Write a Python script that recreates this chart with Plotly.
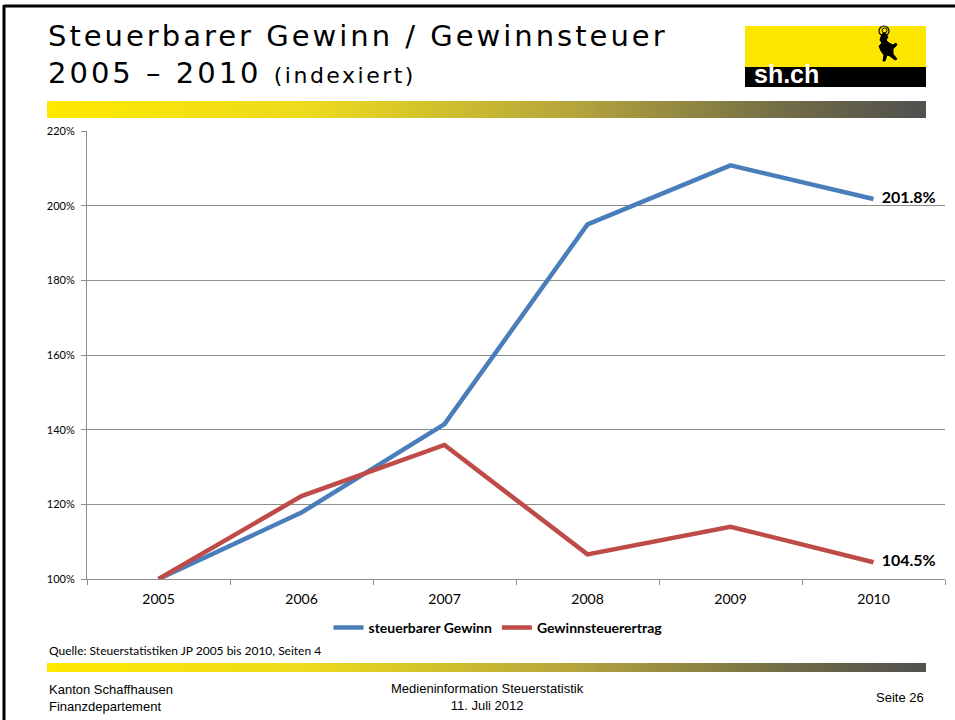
import plotly.graph_objects as go

years = ["2005", "2006", "2007", "2008", "2009", "2010"]
gewinn = [100.0, 117.8, 141.5, 195.0, 210.8, 201.8]
steuer = [100.0, 122.2, 135.9, 106.6, 114.0, 104.5]
series_names = ["steuerbarer Gewinn", "Gewinnsteuerertrag"]
y_ticks = [100, 120, 140, 160, 180, 200, 220]

W, H = 955, 720
L, R, T, B = 87, 10, 131, 141
PW, PH = W - L - R, H - T - B


def px(x):
    return (x - L) / PW


def py(y):
    return (H - B - y) / PH


BLUE = "#4A7EBB"
RED = "#BE4B48"
GRID = "#8C8C8C"

fig = go.Figure()


def last_label(vals):
    return [""] * (len(vals) - 1) + [f"\u00a0\u00a0<b>{vals[-1]:.1f}%</b>"]


for vals, nm, col in [(gewinn, series_names[0], BLUE), (steuer, series_names[1], RED)]:
    fig.add_trace(go.Scatter(
        x=years, y=vals, name="<b>" + nm + "</b>",
        mode="lines+text", line=dict(color=col, width=4.5),
        text=last_label(vals), textposition="middle right",
        textfont=dict(family="Lato", size=16, color="#000000"),
        cliponaxis=False,
    ))

shapes = []
# slide border (top and left)
shapes.append(dict(type="line", xref="paper", yref="paper", x0=px(4), x1=px(956), y0=py(6), y1=py(6),
                   line=dict(color="#000000", width=3), layer="above"))
shapes.append(dict(type="line", xref="paper", yref="paper", x0=px(4), x1=px(4), y0=py(5), y1=py(721),
                   line=dict(color="#000000", width=3), layer="above"))


def grad_color(f):
    stops = [(0.0, (255, 233, 0)), (0.3, (236, 218, 30)), (0.6, (180, 165, 60)), (0.85, (110, 105, 70)), (1.0, (80, 80, 80))]
    for i in range(len(stops) - 1):
        a, ca = stops[i]
        b, cb = stops[i + 1]
        if a <= f <= b:
            t = (f - a) / (b - a)
            c = [round(ca[k] + (cb[k] - ca[k]) * t) for k in range(3)]
            return f"rgb({c[0]},{c[1]},{c[2]})"
    return "rgb(80,80,80)"


def gradient_bar(x0, x1, y0, y1, n=110):
    w = (x1 - x0) / n
    for i in range(n):
        xa = x0 + i * w
        xb = xa + w + 0.6
        shapes.append(dict(type="rect", xref="paper", yref="paper",
                           x0=px(xa), x1=px(min(xb, x1)), y0=py(y1), y1=py(y0),
                           fillcolor=grad_color((i + 0.5) / n), line=dict(width=0), layer="above"))


gradient_bar(47, 926, 101, 118)
gradient_bar(47, 926, 663, 672)

# logo
shapes.append(dict(type="rect", xref="paper", yref="paper", x0=px(745), x1=px(926), y0=py(67), y1=py(26),
                   fillcolor="#FFE600", line=dict(width=0), layer="above"))
shapes.append(dict(type="rect", xref="paper", yref="paper", x0=px(745), x1=px(926), y0=py(87), y1=py(67),
                   fillcolor="#000000", line=dict(width=0), layer="above"))


def pth(points):
    s = ""
    for i, (a, b) in enumerate(points):
        s += ("M" if i == 0 else "L") + f"{px(a):.5f},{py(b):.5f} "
    return s + "Z"


# stylised ibex silhouette
shapes.append(dict(type="path", xref="paper", yref="paper", layer="above",
                   path=pth([(882, 34), (885, 33), (888, 37), (886, 40), (889, 43), (893, 45), (896, 43),
                             (897, 45), (893, 49), (893, 54), (897, 59), (895, 60), (890, 56), (887, 55),
                             (885, 61), (883, 61), (884, 55), (881, 51), (879, 46), (882, 43), (880, 40),
                             (881, 37)]),
                   fillcolor="#000000", line=dict(color="#000000", width=1)))
# curly horns
shapes.append(dict(type="circle", xref="paper", yref="paper", layer="above",
                   x0=px(879), x1=px(889), y0=py(36), y1=py(26), line=dict(color="#000000", width=1.2)))
shapes.append(dict(type="circle", xref="paper", yref="paper", layer="above",
                   x0=px(882), x1=px(887), y0=py(33), y1=py(28), line=dict(color="#000000", width=1)))

ls = "letter-spacing:3px"
ann = []
ann.append(dict(text=f"<span style='{ls}'>Steuerbarer Gewinn / Gewinnsteuer</span>", x=px(46), y=py(55),
                xanchor="left", yanchor="bottom",
                font=dict(family="DejaVu Sans", size=29, color="#000000")))
ann.append(dict(text=f"<span style='{ls}'>2005 – 2010 </span><span style='font-size:22px;letter-spacing:2.5px'>(indexiert)</span>",
                x=px(46), y=py(92), xanchor="left", yanchor="bottom",
                font=dict(family="DejaVu Sans", size=29, color="#000000")))
ann.append(dict(text="<b>sh.ch</b>", x=px(752), y=py(90), xanchor="left", yanchor="bottom",
                font=dict(family="Liberation Sans", size=25, color="#FFFFFF")))
ann.append(dict(text="Quelle: Steuerstatistiken JP 2005 bis 2010, Seiten 4", x=px(47), y=py(650),
                xanchor="left", yanchor="middle", font=dict(family="Lato", size=12, color="#000000")))
ann.append(dict(text="Kanton Schaffhausen<br>Finanzdepartement", x=px(47), y=py(698), xanchor="left",
                yanchor="middle", align="left",
                font=dict(family="Liberation Sans", size=13, color="#000000")))
ann.append(dict(text="Medieninformation Steuerstatistik<br>11. Juli 2012", x=px(487), y=py(697),
                xanchor="center", yanchor="middle", align="center",
                font=dict(family="Liberation Sans", size=13, color="#000000")))
ann.append(dict(text="Seite 26", x=px(926), y=py(697), xanchor="right", yanchor="middle",
                font=dict(family="Liberation Sans", size=13, color="#000000")))
for a in ann:
    a.update(xref="paper", yref="paper", showarrow=False)

fig.update_layout(
    width=W, height=H,
    margin=dict(l=L, r=R, t=T, b=B, pad=0),
    paper_bgcolor="#FFFFFF", plot_bgcolor="#FFFFFF",
    showlegend=True,
    legend=dict(orientation="h", x=px(498), xanchor="center", y=py(628), yanchor="middle",
                font=dict(family="Lato", size=14, color="#000000"), bgcolor="rgba(0,0,0,0)",
                itemwidth=30, tracegroupgap=0),
    shapes=shapes, annotations=ann,
    xaxis=dict(type="category", range=[-0.5, 5.5], showgrid=False, showline=True, linecolor=GRID,
               linewidth=1, ticks="outside", ticklen=5, tickcolor=GRID, tickson="boundaries",
               tickfont=dict(family="Lato", size=14, color="#000000"), ticklabelstandoff=7,
               fixedrange=True),
    yaxis=dict(range=[100, 220], tickvals=y_ticks, ticktext=[f"{v}%" for v in y_ticks],
               showgrid=True, gridcolor=GRID, gridwidth=1, showline=True, linecolor=GRID, linewidth=1,
               ticks="outside", ticklen=5, tickcolor=GRID, zeroline=False, ticklabelstandoff=4,
               tickfont=dict(family="Lato", size=11, color="#000000"), fixedrange=True),
)

fig.write_html("out.html")
